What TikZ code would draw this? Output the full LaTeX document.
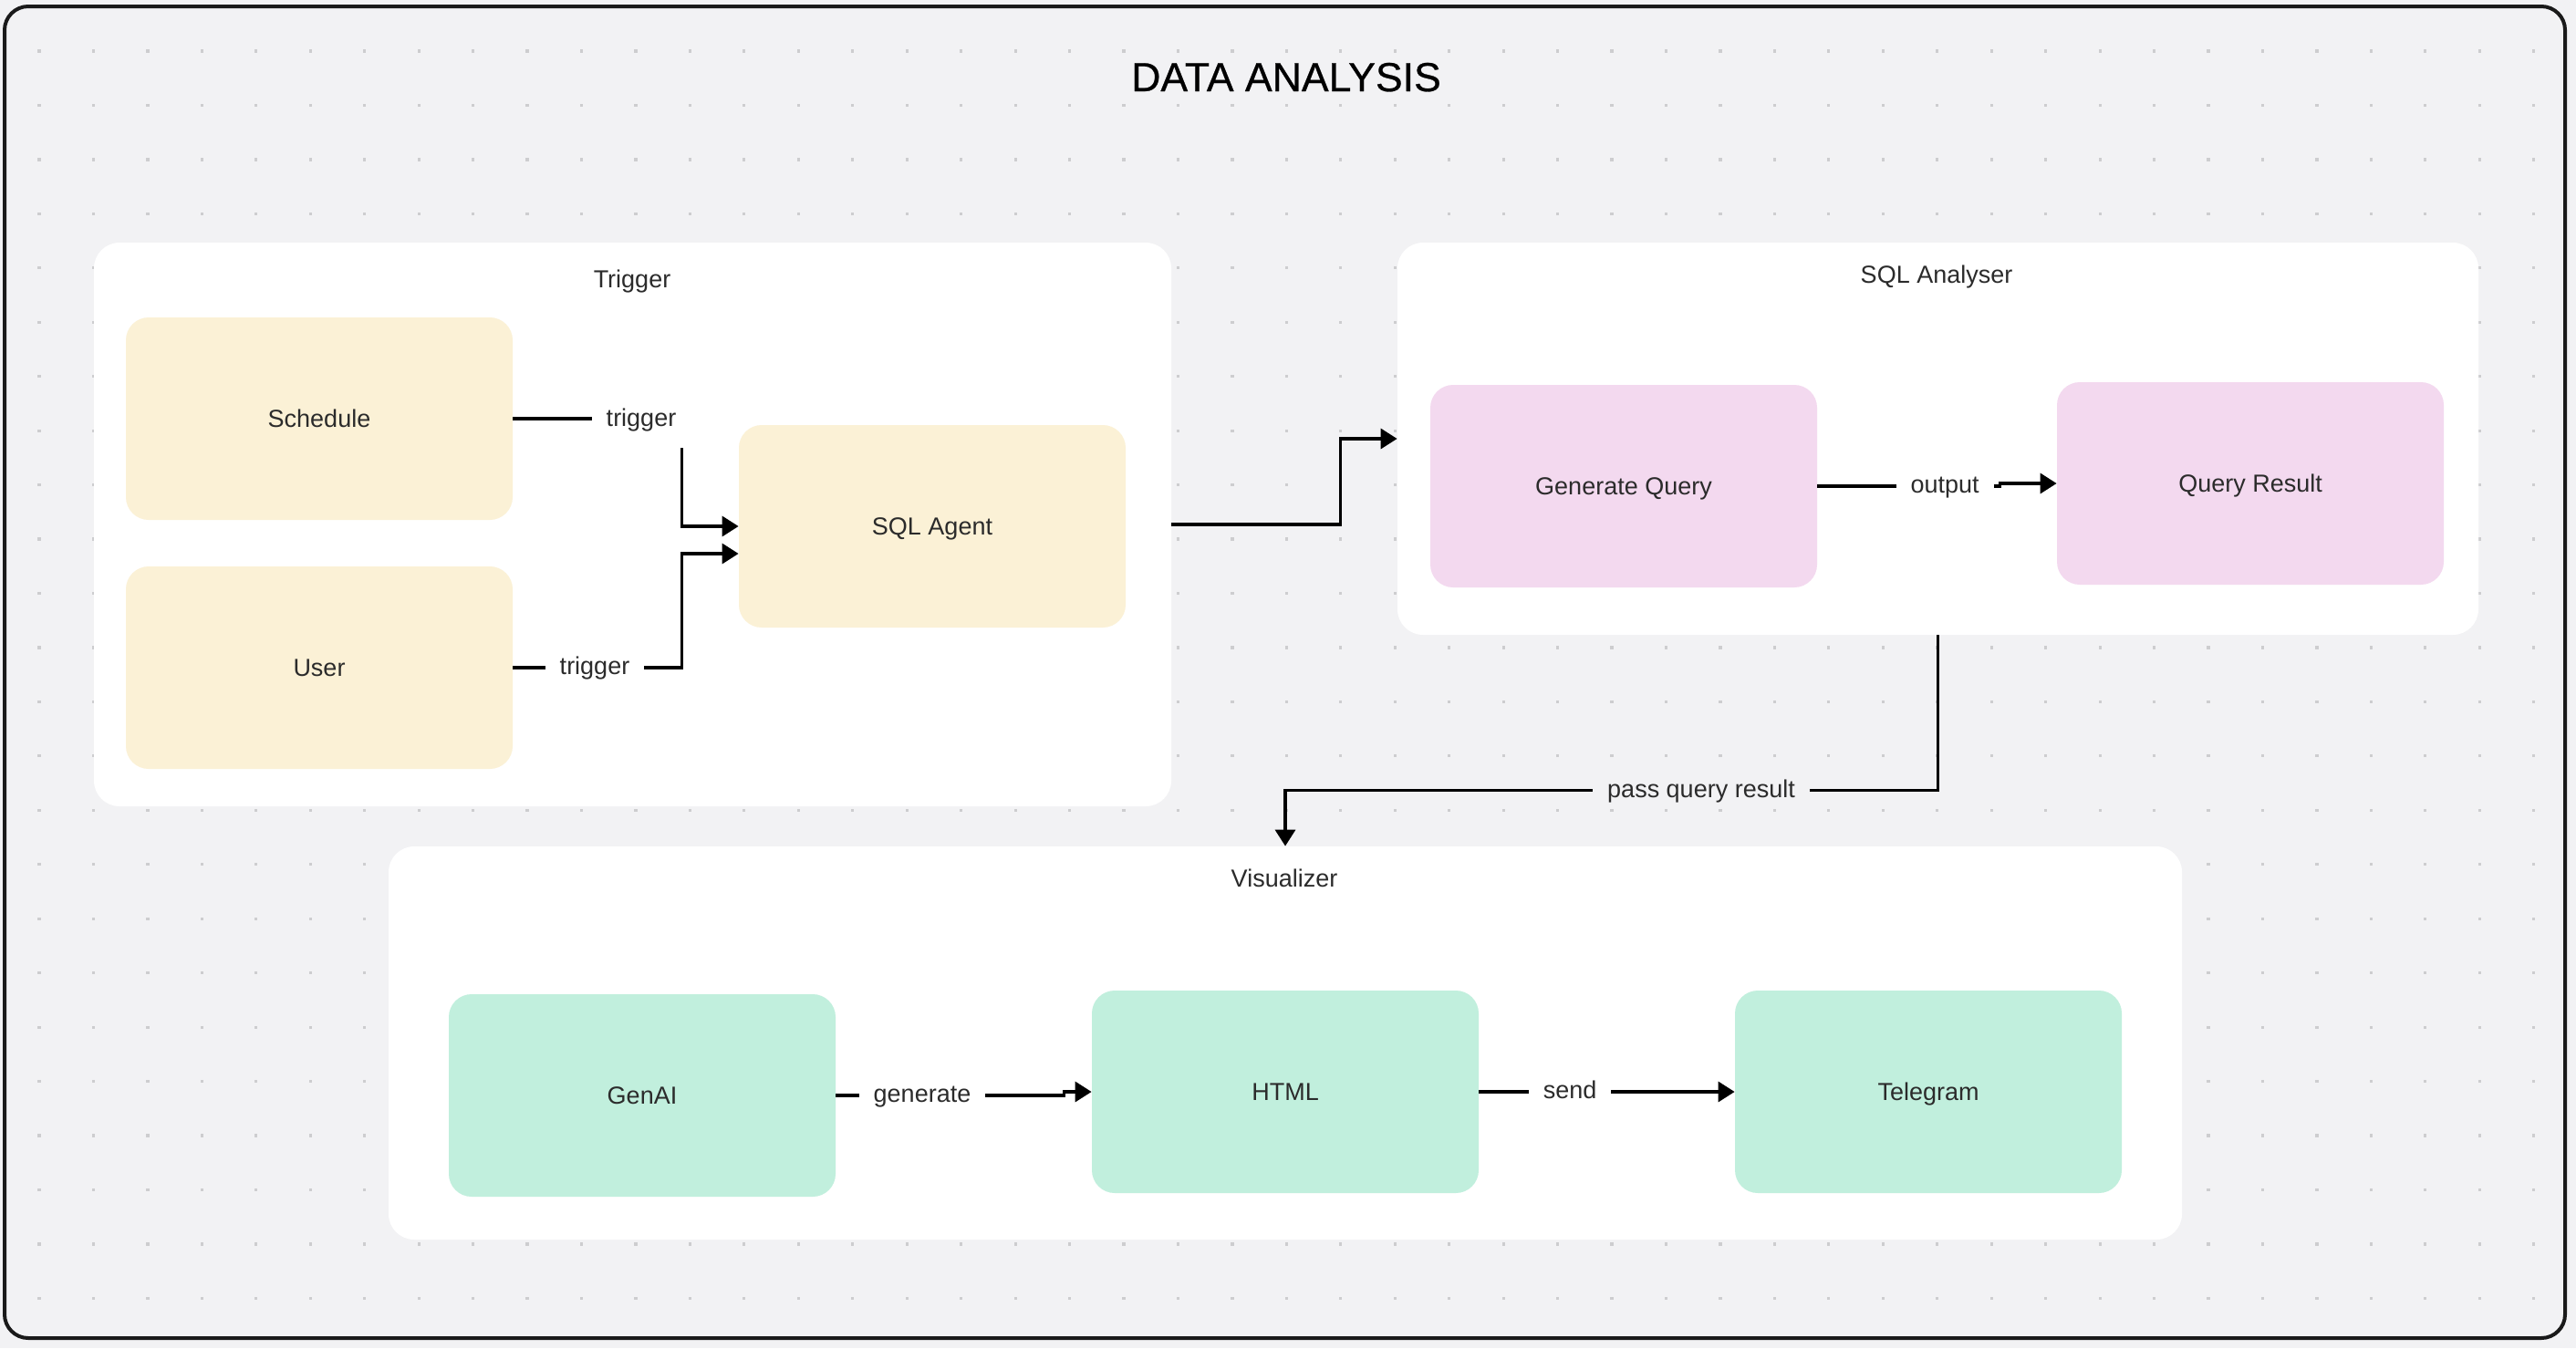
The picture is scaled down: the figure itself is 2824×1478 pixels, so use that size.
\documentclass[tikz,border=0pt]{standalone}
\usepackage{fontspec}
\setmainfont{Liberation Sans}
\newfontfamily\headfont[FakeBold=0.6]{Liberation Sans}
\usetikzlibrary{arrows.meta}

\definecolor{canvas}{HTML}{F2F2F4}
\definecolor{dotc}{HTML}{CDCDCF}
\definecolor{frame}{HTML}{1A1A1A}
\definecolor{ink}{HTML}{2B2B2B}
\definecolor{sand}{HTML}{FBF1D6}
\definecolor{orchid}{HTML}{F3D9EF}
\definecolor{mint}{HTML}{C1EFDD}

\begin{document}
\begin{tikzpicture}[x=0.5pt,y=-0.5pt,
  panel/.style={fill=white, rounded corners=14pt, inner sep=0pt},
  paneltitle/.style={font=\fontsize{13.5}{16}\selectfont, text=ink, inner sep=0pt, text height=9.7pt, text depth=0pt},
  card/.style={rounded corners=12.5pt, minimum width=212pt, minimum height=111pt,
    inner sep=0pt, font=\fontsize{13.5}{16}\selectfont, text=ink, text height=9.7pt, text depth=0pt},
  trig card/.style={card, fill=sand},
  sql card/.style={card, fill=orchid},
  vis card/.style={card, fill=mint},
  flow/.style={draw=black, line width=1.7pt, -{Triangle[length=9pt,width=11pt]}},
  tag/.style={fill=white, font=\fontsize{13.5}{16}\selectfont, text=ink,
    inner xsep=8pt, inner ysep=3pt, text height=7.8pt, text depth=0pt},
]
\useasboundingbox (0,0) rectangle (2824,1478);

% canvas, dot grid and outer frame
\fill[canvas] (0,0) rectangle (2824,1478);
\foreach \i in {0,...,46}{
  \foreach \j in {0,...,23}{
    \fill[dotc] ({43+59.45*\i-1.6},{56+59.45*\j-1.6}) rectangle ++(3.2,3.2);
  }
}
\draw[frame, line width=2pt, rounded corners=13pt] (5,7) rectangle (2812,1467);

\node[font=\headfont\fontsize{22.3}{27}\selectfont, text=black, anchor=base, inner sep=0pt] (ttl) at (1410,100) {DATA ANALYSIS};

% group panels
\node[panel, minimum width=590.5pt, minimum height=309pt] (trig) at (693.5,575) {};
\node[panel, minimum width=592.5pt, minimum height=215pt] (sqlp) at (2124.5,481) {};
\node[panel, minimum width=983pt, minimum height=215.5pt] (vis) at (1409,1143.5) {};

\node[paneltitle] (trigT) at (693,306) {Trigger};
\node[paneltitle] (sqlT) at (2123,301) {SQL Analyser};
\node[paneltitle] (visT) at (1408,963) {Visualizer};

% cards
\node[trig card] (sched) at (350,459) {Schedule};
\node[trig card] (user) at (350,732) {User};
\node[trig card] (agent) at (1022,577) {SQL Agent};

\node[sql card] (gq) at (1780,533) {Generate Query};
\node[sql card] (qr) at (2467,530) {Query Result};

\node[vis card] (genai) at (704,1201) {GenAI};
\node[vis card] (html) at (1409,1197) {HTML};
\node[vis card] (tele) at (2114,1197) {Telegram};

% connectors
\draw[flow] (sched.east) -| ([xshift=-31pt]agent.west) -- (agent.west);
\draw[flow] (user.east) -| ([xshift=-31pt,yshift=-15pt]agent.west) -- ([yshift=-15pt]agent.west);
\draw[flow] (trig.east) -| ([xshift=-31pt]sqlp.west) -- (sqlp.west);
\draw[flow] (gq.east) -| ([xshift=-31pt]qr.west) -- (qr.west);
\draw[flow] (sqlp.south) |- ([yshift=30.5pt]vis.north) -- (vis.north);
\draw[flow] (genai.east) -| ([xshift=-15pt]html.west) -- (html.west);
\draw[flow] (html.east) -- (tele.west);

% connector labels
\node[tag, inner ysep=11.5pt] (lbA) at (703,460) {trigger};
\node[tag] (lbB) at (652,732) {trigger};
\node[tag] (lbC) at (2132,533) {output};
\node[tag, fill=canvas] (lbD) at (1865,867) {pass query result};
\node[tag] (lbE) at (1011,1201) {generate};
\node[tag] (lbF) at (1721,1197) {send};
\end{tikzpicture}
\end{document}
